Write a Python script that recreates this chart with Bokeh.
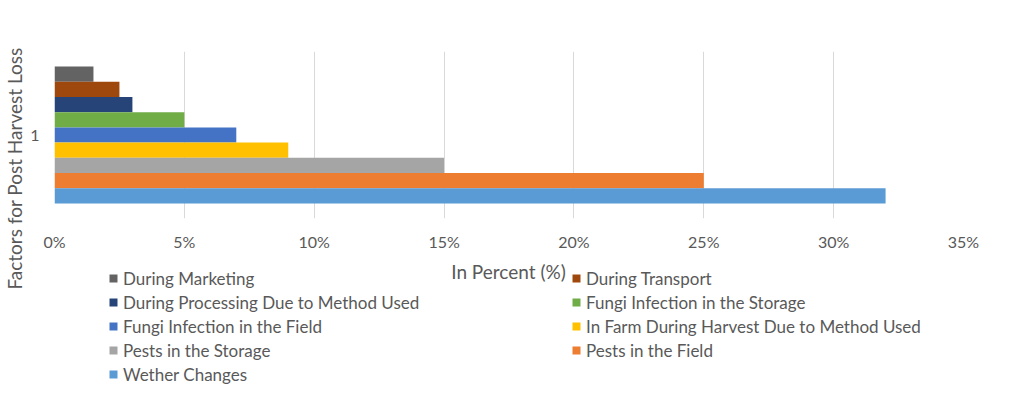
import math
from bokeh.plotting import figure
from bokeh.layouts import row, column
from bokeh.models import (ColumnDataSource, FactorRange, Range1d, Legend, LegendItem,
                          Label, PrintfTickFormatter, FixedTicker)
from bokeh.transform import dodge
from bokeh.embed import file_html
from bokeh.resources import INLINE

# ---- data ----
category = ["1"]
series = ["During Marketing", "During Transport", "During Processing Due to Method Used",
          "Fungi Infection in the Storage", "Fungi Infection in the Field",
          "In Farm During Harvest Due to Method Used", "Pests in the Storage",
          "Pests in the Field", "Wether Changes"]
values = [1.5, 2.5, 3, 5, 7, 9, 15, 25, 32]
colors = ["#636363", "#9E480E", "#264478", "#70AD47", "#4472C4",
          "#FFC000", "#A5A5A5", "#ED7D31", "#5B9BD5"]
x_ticks = [0, 5, 10, 15, 20, 25, 30, 35]
x_title = "In Percent (%)"
y_title = "Factors for Post Harvest Loss"

FONT = "Lato"
TXT = "#595959"


def blank(width, height):
    f = figure(width=width, height=height, min_border=0, x_range=Range1d(0, 1),
               y_range=Range1d(0, 1), x_axis_location=None, y_axis_location=None,
               output_backend="svg", toolbar_location=None)
    f.outline_line_color = None
    f.xgrid.grid_line_color = None
    f.ygrid.grid_line_color = None
    f.background_fill_color = "white"
    f.border_fill_color = "white"
    return f


# ---- main chart ----
p = figure(y_range=FactorRange(*category), x_range=Range1d(0, 35),
           frame_width=909, frame_height=167,
           min_border_left=28, min_border_right=52, min_border_top=51, min_border_bottom=40,
           output_backend="svg", toolbar_location=None)
p.outline_line_color = None
p.background_fill_color = "white"
p.border_fill_color = "white"

n = len(series)
group = 0.82
h = group / n
for i, (s, v, c) in enumerate(zip(series, values, colors)):
    src = ColumnDataSource(dict(y=category, right=[v]))
    off = group / 2 - h / 2 - i * h
    p.hbar(y=dodge("y", off, range=p.y_range), left=0, right="right", height=h,
           source=src, fill_color=c, line_color=None)

p.xaxis.ticker = FixedTicker(ticks=x_ticks)
p.xaxis.formatter = PrintfTickFormatter(format="%d%%")
p.xaxis.axis_line_color = None
p.xaxis.major_tick_line_color = None
p.xaxis.minor_tick_line_color = None
p.xaxis.major_tick_out = 0
p.xaxis.minor_tick_out = 0
p.xaxis.major_label_standoff = 13
p.xaxis.major_label_text_font = FONT
p.xaxis.major_label_text_font_size = "16px"
p.xaxis.major_label_text_color = TXT

p.yaxis.axis_line_color = None
p.yaxis.major_tick_line_color = None
p.yaxis.minor_tick_line_color = None
p.yaxis.major_tick_out = 0
p.yaxis.minor_tick_out = 0
p.yaxis.major_label_standoff = 15
p.yaxis.major_label_text_font = FONT
p.yaxis.major_label_text_font_size = "16px"
p.yaxis.major_label_text_color = TXT

p.xgrid.grid_line_color = "#D9D9D9"
p.ygrid.grid_line_color = None

# ---- left strip with the y title ----
left = blank(26, 398)
left.add_layout(Label(x=14, y=230, x_units="screen", y_units="screen", text=y_title,
                      angle=math.pi / 2, text_align="center", text_baseline="middle",
                      text_font=FONT, text_font_size="19px", text_color=TXT))

# ---- bottom strip: x title + legend ----
bottom = blank(989, 140)
bottom.add_layout(Label(x=454, y=127, x_units="screen", y_units="screen", text=x_title,
                        text_align="center", text_baseline="middle",
                        text_font=FONT, text_font_size="19px", text_color=TXT))
items = []
for s, c in zip(series, colors):
    # zero-size proxy renderer, used only for the legend swatch
    r = bottom.hbar(y=[0.5], left=[0], right=[0], height=0, fill_color=c, line_color=None)
    items.append(LegendItem(label=s, renderers=[r]))
legend = Legend(items=items, location=(54, 13.5), orientation="horizontal", ncols=2,
                glyph_width=10, glyph_height=10, label_standoff=5, label_width=445,
                padding=0, margin=0, spacing=3, border_line_color=None,
                background_fill_alpha=0, label_text_font=FONT,
                label_text_font_size="17px", label_text_color=TXT, label_height=20)
bottom.add_layout(legend)

layout = row(left, column(p, bottom))
open("out.html", "w").write(file_html(layout, INLINE))
